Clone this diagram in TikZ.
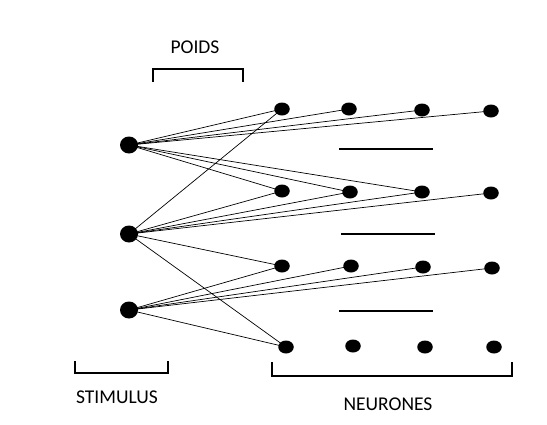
\documentclass[tikz,border=0pt]{standalone}
\usepackage{fontspec}
\setmainfont{Carlito}
\usetikzlibrary{shapes.geometric}
\begin{document}
\begin{tikzpicture}[x=1pt,y=-1pt,
  inp/.style={ellipse,fill=black,minimum width=18pt,minimum height=17pt,inner sep=0pt},
  neu/.style={ellipse,fill=black,minimum width=15.5pt,minimum height=13pt,inner sep=0pt},
  link/.style={line width=0.7pt},
  bar/.style={line width=2.8pt},
  brk/.style={line width=2.8pt},
  lbl/.style={font=\fontsize{19.5}{22}\selectfont,inner sep=0pt}]
\useasboundingbox (0,0) rectangle (547,424);
% inputs
\node[inp] (s1) at (129,145) {};
\node[inp] (s2) at (129,234) {};
\node[inp] (s3) at (129,310) {};
% neurons
\node[neu] (a1) at (282,109) {};
\node[neu] (a2) at (349,109) {};
\node[neu] (a3) at (422,110) {};
\node[neu] (a4) at (491,111) {};
\node[neu] (b1) at (282,191) {};
\node[neu] (b2) at (350,192) {};
\node[neu] (b3) at (422,192) {};
\node[neu] (b4) at (491,193) {};
\node[neu] (c1) at (282,266) {};
\node[neu] (c2) at (351,266) {};
\node[neu] (c3) at (423,267) {};
\node[neu] (c4) at (492,268) {};
\node[neu] (d1) at (286,347) {};
\node[neu] (d2) at (353,346) {};
\node[neu] (d3) at (425,347) {};
\node[neu] (d4) at (494,347) {};
% connections
\foreach \t in {a1,a2,a3,a4,b1,b2,b3} \draw[link] (s1.center) -- (\t.center);
\foreach \t in {a1,b1,b2,b3,b4,c1,d1} \draw[link] (s2.center) -- (\t.center);
\foreach \t in {c1,c2,c3,c4,d1} \draw[link] (s3.center) -- (\t.center);
% bars
\draw[bar] (339,149) -- (433,149);
\draw[bar] (341,234) -- (435,234);
\draw[bar] (339,311) -- (433,311);
% brackets
\draw[brk] (153,82) -- (153,69) -- (243,69) -- (243,82);
\draw[brk] (75,361) -- (75,373) -- (168,373) -- (168,361);
\draw[brk] (272,362) -- (272,376) -- (512,376) -- (512,362);
% labels
\node[lbl] (poids) at (195,47) {POIDS};
\node[lbl] (stim) at (117,397) {STIMULUS};
\node[lbl] (neur) at (388,404) {NEURONES};
\end{tikzpicture}
\end{document}
